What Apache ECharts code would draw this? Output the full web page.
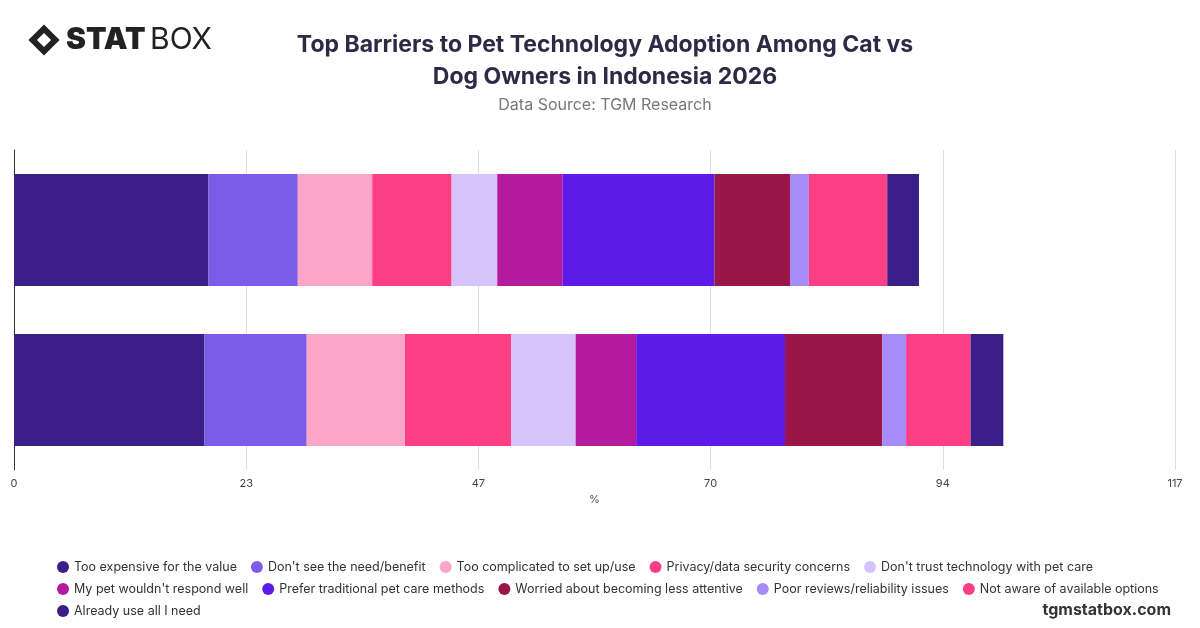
<!DOCTYPE html>
<html><head><meta charset="utf-8">
<script src="https://cdn.jsdelivr.net/npm/echarts@6/dist/echarts.min.js"></script>
<style>html,body{margin:0;padding:0;background:#fff}#c{width:1200px;height:628px}</style>
</head><body><div id="c"></div>
<script>
const categories = ['Dog', 'Cat'];
const seriesNames = ['Too expensive for the value', "Don't see the need/benefit", 'Too complicated to set up/use', 'Privacy/data security concerns', "Don't trust technology with pet care", "My pet wouldn't respond well", 'Prefer traditional pet care methods', 'Worried about becoming less attentive', 'Poor reviews/reliability issues', 'Not aware of available options', 'Already use all I need'];
const dogValues = [19.2, 10.3, 9.9, 10.7, 6.5, 6.1, 15.0, 9.8, 2.4, 6.5, 3.3];
const catValues = [19.6, 9.0, 7.5, 8.0, 4.6, 6.6, 15.3, 7.6, 1.9, 7.9, 3.2];
const colors = ['#3b1e87', '#7b5ce9', '#fba6c8', '#fe3f86', '#d6c3fb', '#b41a9f', '#5e1ae6', '#9a1649', '#a88bfa', '#fe3f86', '#3b1e87'];
const chart = echarts.init(document.getElementById('c'));
chart.setOption({
  animation: false,
  color: colors,
  title: [
    {text: 'Top Barriers to Pet Technology Adoption Among Cat vs\nDog Owners in Indonesia 2026', left: 600, top: 24, textAlign: 'center',
     textStyle: {fontFamily: 'Inter', fontSize: 23, fontWeight: 'bold', color: '#2d2a45', lineHeight: 32}},
    {text: 'Data Source: TGM Research', left: 600, top: 92, textAlign: 'center',
     textStyle: {fontFamily: 'Inter', fontSize: 16, fontWeight: 'normal', color: '#777'}},
    {text: 'tgmstatbox.com', right: 24, top: 597, textStyle: {fontFamily: 'Inter', fontSize: 16, fontWeight: 'bold', color: '#333'}}
  ],
  graphic: [
    {type: 'rect', shape: {x: -11, y: -11, width: 22, height: 22}, x: 44, y: 40, rotation: Math.PI / 4, style: {fill: '#222'}},
    {type: 'rect', shape: {x: -5, y: -5, width: 10, height: 10}, x: 44, y: 40, rotation: Math.PI / 4, style: {fill: '#fff'}},
    {type: 'text', left: 66, top: 25, style: {text: 'STAT', font: '900 30px Inter', fill: '#222'}},
    {type: 'text', left: 150, top: 25, style: {text: 'BOX', font: '400 30px Inter', fill: '#222'}}
  ],
  grid: {left: 14, right: 25, top: 150, bottom: 158, containLabel: false},
  xAxis: {type: 'value', min: 0, max: 117, interval: 23.4, name: '%', nameLocation: 'middle', nameGap: 20,
    nameTextStyle: {color: '#555', fontSize: 11, fontFamily: 'Inter'},
    axisLabel: {formatter: v => Math.round(v), color: '#444', fontSize: 11, fontFamily: 'Inter'},
    splitLine: {lineStyle: {color: '#ddd'}}, axisLine: {show: false}, axisTick: {show: false}},
  yAxis: {type: 'category', data: categories, axisLabel: {show: false}, axisTick: {show: false},
    axisLine: {show: true, lineStyle: {color: '#333'}}},
  legend: {top: 555, left: 52, right: 40, itemWidth: 12, itemHeight: 12, icon: 'circle', itemGap: 8,
    textStyle: {fontFamily: 'Inter', fontSize: 12.5, color: '#333', lineHeight: 14, padding: [0, 6, 0, 0]}},
  series: seriesNames.map((n, i) => ({name: n, type: 'bar', stack: 't', barWidth: '70%',
    data: [dogValues[i], catValues[i]]}))
});
</script></body></html>
